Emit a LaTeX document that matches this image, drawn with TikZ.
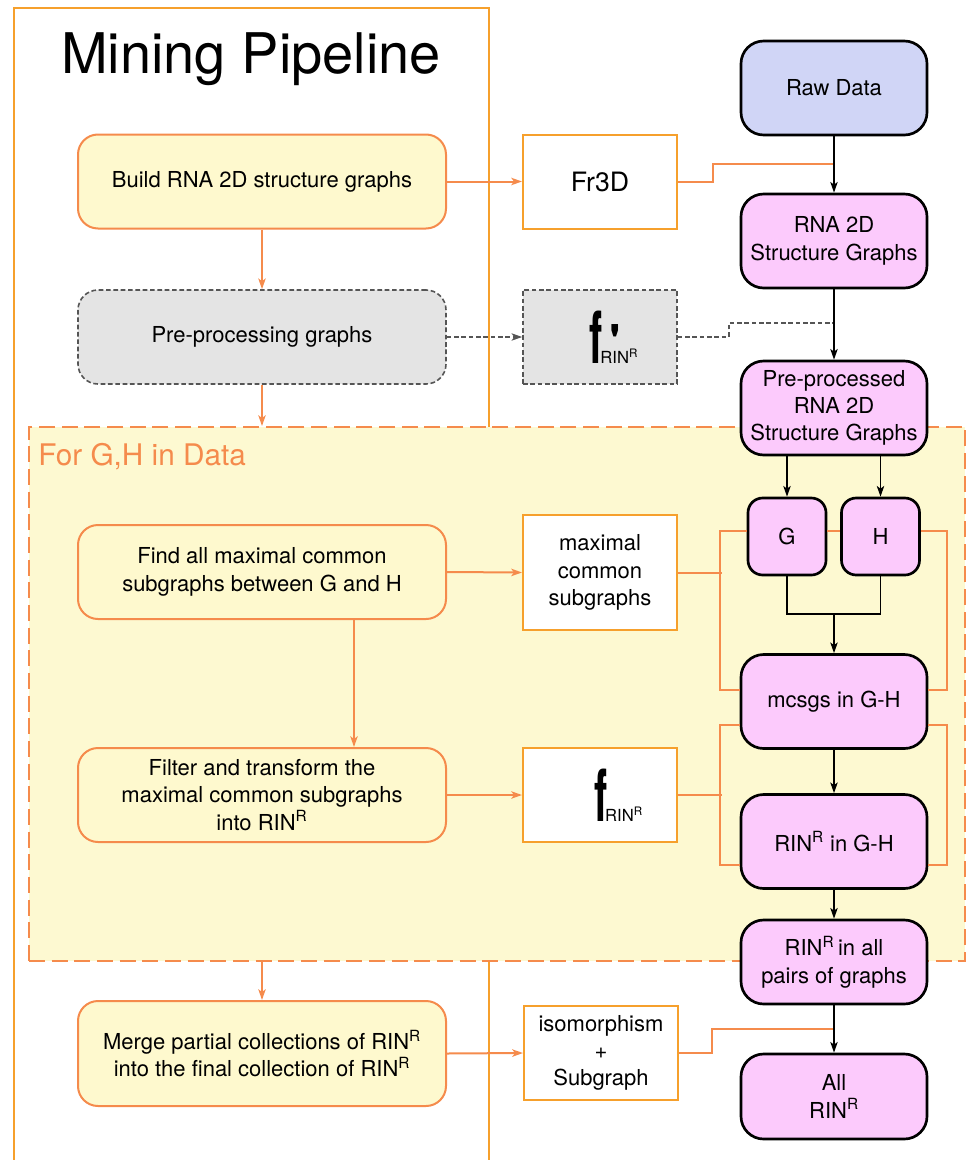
\documentclass[tikz,border=0pt]{standalone}
\usepackage{graphicx}
\usepackage{fontspec}
\setmainfont{TeX Gyre Heros}
\usetikzlibrary{arrows.meta,calc}

\definecolor{pipeorange}{HTML}{F6A02C}
\definecolor{lineorange}{HTML}{F58B4C}
\definecolor{procyellow}{HTML}{FEF9CE}
\definecolor{loopyellow}{HTML}{FDF9D1}
\definecolor{datapink}{HTML}{FCCAFC}
\definecolor{rawblue}{HTML}{D0D5F6}
\definecolor{optgray}{HTML}{E4E4E4}
\definecolor{dashgray}{HTML}{555555}

\newcommand{\rinR}{RIN\textsuperscript{R}}
\newcommand{\fmapsym}[1]{\rlap{\scalebox{0.55}[1]{\fontsize{54}{54}\selectfont\bfseries f}}\kern8pt\rlap{\kern6.5pt\raisebox{\dimexpr 29pt-\height}{\fontsize{36}{36}\selectfont\bfseries #1}}{\fontsize{12.5}{12.5}\selectfont RIN\textsuperscript{R}}}

\tikzset{
  pipeline/.style={draw=pipeorange, line width=1.5pt},
  loopbox/.style={draw=lineorange, fill=loopyellow, line width=1.5pt, dash pattern=on 12pt off 5pt, minimum width=702pt, minimum height=400.5pt, inner sep=0pt},
  looplabel/.style={anchor=base west, text=lineorange, font=\fontsize{22.3}{26}\selectfont, inner sep=0pt},
  headline/.style={anchor=base, font=\fontsize{42}{48}\selectfont, inner sep=0pt},
  boxtext/.style={align=center, inner sep=2pt, font=\fontsize{16.5}{20.5}\selectfont},
  procbox/.style={boxtext, draw=lineorange, fill=procyellow, line width=1.5pt, rounded corners=15pt, minimum width=276pt, minimum height=70.5pt},
  optprocbox/.style={procbox, draw=dashgray, fill=optgray, dash pattern=on 3.5pt off 2pt, line width=1.2pt},
  toolbox/.style={boxtext, draw=pipeorange, fill=white, line width=1.5pt, minimum width=115.5pt, minimum height=70.5pt},
  opttoolbox/.style={toolbox, draw=dashgray, fill=optgray, dash pattern=on 3.5pt off 2pt, line width=1.2pt},
  databox/.style={boxtext, draw=black, fill=datapink, line width=2pt, rounded corners=17pt, minimum width=139.5pt, minimum height=70.5pt},
  gbox/.style={databox, rounded corners=11pt, minimum width=58.5pt, minimum height=57.75pt},
  oline/.style={draw=lineorange, line width=1.5pt},
  oarrow/.style={oline, -{Stealth[length=8pt,width=5.5pt,inset=2pt]}},
  bline/.style={draw=black, line width=1.4pt},
  barrow/.style={bline, -{Stealth[length=8pt,width=5.5pt,inset=2pt]}},
  gline/.style={draw=dashgray, line width=1.2pt, dash pattern=on 3.5pt off 2pt},
  garrow/.style={gline, -{Stealth[length=8pt,width=5.5pt,inset=2pt]}}
}

\begin{document}
\begin{tikzpicture}[x=0.75pt,y=0.75pt,yscale=-1]
\clip (0,0) rectangle (969,1160);

% pipeline frame
\draw [pipeline] (14,8) rectangle (489,1200);
\node [headline] (title) at (251,73) {Mining Pipeline};

% loop over pairs
\node [loopbox] (loop) at (497,694) {};
\node [looplabel] (looptext) at (38,465) {For G,H in Data};

% left column
\node [procbox] (build) at (262,181.5) {Build RNA 2D structure graphs};
\node [optprocbox] (pre) at (262,337) {Pre-processing graphs};
\node [procbox] (find) at (262,572) {Find all maximal common\\subgraphs between G and H};
\node [procbox] (filter) at (262,795) {Filter and transform the\\maximal common subgraphs\\into \rinR};
\node [procbox, minimum height=78.75pt] (merge) at (262,1053.5) {Merge partial collections of \rinR\\into the final collection of \rinR};

% middle column
\node [toolbox] (fr3d) at (600,181.5) {\fontsize{20}{20}\selectfont Fr3D};
\node [opttoolbox] (fprime) at (600,337) {\hspace*{21pt}\fmapsym{\textquotesingle}};
\node [toolbox, minimum height=86.25pt] (mcs) at (600,572.5) {maximal\\common\\subgraphs};
\node [toolbox] (f) at (600,795) {\hspace*{28pt}\fmapsym{}};
\node [toolbox] (iso) at (601,1053) {isomorphism\\+\\Subgraph};

% right column
\node [databox, fill=rawblue] (raw) at (834,88) {Raw Data};
\node [databox] (rna) at (834,241) {RNA 2D\\Structure Graphs};
\node [databox] (prep) at (834,408) {Pre-processed\\RNA 2D\\Structure Graphs};
\node [gbox] (g) at (787,536.5) {G};
\node [gbox] (h) at (880.5,536.5) {H};
\node [databox] (mcsgs) at (834,701.5) {mcsgs in G-H};
\node [databox] (ring) at (834,841.5) {\rinR\ in G-H};
\node [databox, minimum height=63pt] (rall) at (834,962) {\rinR\,in all\\pairs of graphs};
\node [databox, minimum height=63.75pt] (allr) at (834,1096.5) {All\\\rinR};

\coordinate (j1) at (834,164);
\coordinate (j2) at (834,323);
\coordinate (j3) at (834,1029);
\coordinate (gh) at (834,614);

% left flow
\draw [oarrow] (build.south) -- (pre.north);
\draw [oarrow] (pre.south) -- (pre.south |- loop.north);
\draw [oarrow] ($(find.south)+(92,0)$) -- ($(filter.north)+(92,0)$);
\draw [oarrow] (merge.north |- loop.south) -- (merge.north);

% tools
\draw [oarrow] (build.east) -- (fr3d.west);
\draw [oline] (fr3d.east) -- ++(35,0) |- (j1);
\draw [garrow] (pre.east) -- (fprime.west);
\draw [gline] (fprime.east) -- ++(51,0) |- (j2);
\draw [oarrow] (find.east) -- (mcs.west);
\draw [oarrow] (filter.east) -- (f.west);
\draw [oarrow] (merge.east) -- (iso.west);
\draw [oline] (iso.east) -- ++(33,0) |- (j3);

% brackets
\draw [oline] (mcs.east) -- ++(44,0);
\draw [oline] ($(g.west)+(0,-5.5)$) -| ($(mcsgs.west)+(-20,-11.5)$) -- ($(mcsgs.west)+(0,-11.5)$);
\draw [oline] ($(g.east)+(0,-5.5)$) -- ($(h.west)+(0,-5.5)$);
\draw [oline] ($(h.east)+(0,-5.5)$) -| ($(mcsgs.east)+(19,-11.5)$) -- ($(mcsgs.east)+(0,-11.5)$);
\draw [oline] (f.east) -- ++(44,0);
\draw [oline] ($(mcsgs.west)+(0,23.5)$) -| ($(ring.west)+(-20,23.5)$) -- ($(ring.west)+(0,23.5)$);
\draw [oline] ($(mcsgs.east)+(0,23.5)$) -| ($(ring.east)+(19,23.5)$) -- ($(ring.east)+(0,23.5)$);

% data flow
\draw [barrow] (raw.south) -- (rna.north);
\draw [barrow] (rna.south) -- (prep.north);
\draw [barrow] (prep.south -| g.north) -- (g.north);
\draw [barrow] (prep.south -| h.north) -- (h.north);
\draw [bline] (g.south) |- (gh) -| (h.south);
\draw [barrow] (gh) -- (mcsgs.north);
\draw [barrow] (mcsgs.south) -- (ring.north);
\draw [barrow] (ring.south) -- (rall.north);
\draw [barrow] (rall.south) -- (allr.north);

\end{tikzpicture}
\end{document}
